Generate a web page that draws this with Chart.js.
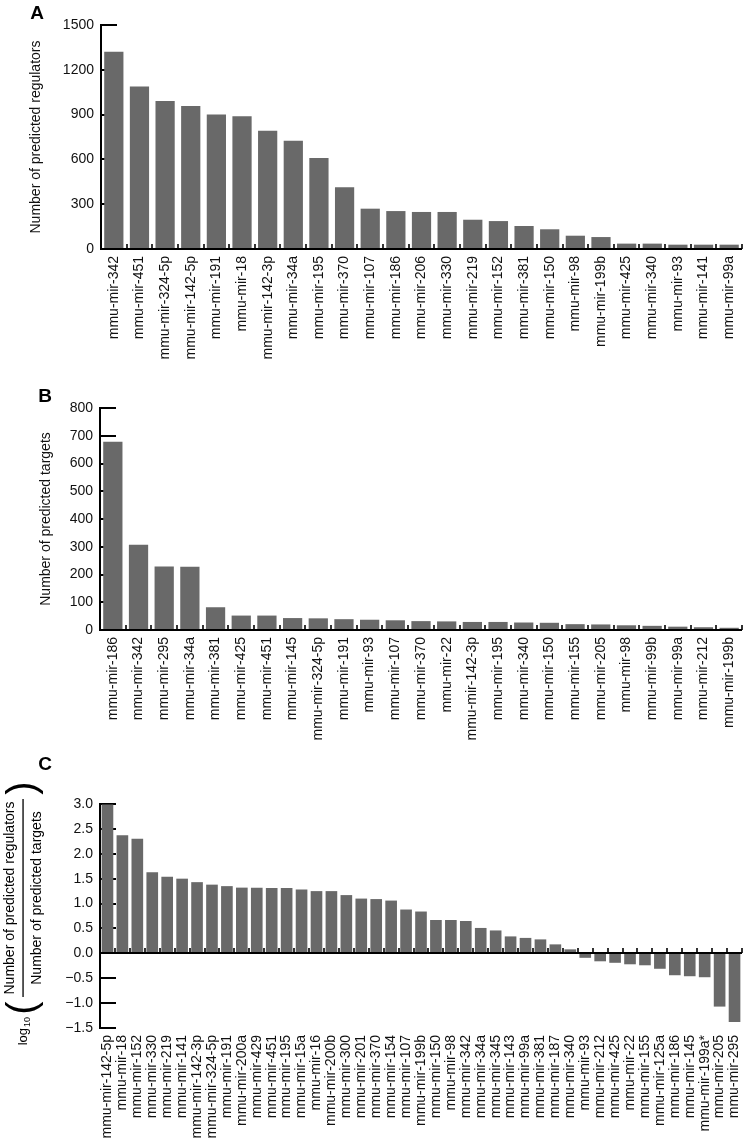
<!DOCTYPE html>
<html>
<head>
<meta charset="UTF-8">
<title>Predicted regulators and targets per miRNA</title>
<script src="https://cdn.jsdelivr.net/npm/chart.js@4.4.0/dist/chart.umd.min.js"></script>
<style>
  body { margin: 0; background: #fff; }
  #page { position: relative; width: 743px; height: 1144px; }
  canvas { position: absolute; left: 0; }
</style>
</head>
<body>
<div id="page">
  <canvas id="chartA" width="743" height="370" style="top:0px"></canvas>
  <canvas id="chartB" width="743" height="380" style="top:370px"></canvas>
  <canvas id="chartC" width="743" height="394" style="top:750px"></canvas>
</div>
<script>
// panel A: number of predicted regulators
const regulatorMirs = ['mmu-mir-342','mmu-mir-451','mmu-mir-324-5p','mmu-mir-142-5p','mmu-mir-191','mmu-mir-18',
  'mmu-mir-142-3p','mmu-mir-34a','mmu-mir-195','mmu-mir-370','mmu-mir-107','mmu-mir-186','mmu-mir-206',
  'mmu-mir-330','mmu-mir-219','mmu-mir-152','mmu-mir-381','mmu-mir-150','mmu-mir-98','mmu-mir-199b',
  'mmu-mir-425','mmu-mir-340','mmu-mir-93','mmu-mir-141','mmu-mir-99a'];
const regulatorCounts = [1321, 1089, 991, 958, 900, 889, 792, 725, 609, 413, 270, 254, 248,
  248, 196, 187, 154, 132, 89, 80, 36, 36, 29, 29, 29];
const regulatorTicks = [0, 300, 600, 900, 1200, 1500];

// panel B: number of predicted targets
const targetMirs = ['mmu-mir-186','mmu-mir-342','mmu-mir-295','mmu-mir-34a','mmu-mir-381','mmu-mir-425',
  'mmu-mir-451','mmu-mir-145','mmu-mir-324-5p','mmu-mir-191','mmu-mir-93','mmu-mir-107','mmu-mir-370',
  'mmu-mir-22','mmu-mir-142-3p','mmu-mir-195','mmu-mir-340','mmu-mir-150','mmu-mir-155','mmu-mir-205',
  'mmu-mir-98','mmu-mir-99b','mmu-mir-99a','mmu-mir-212','mmu-mir-199b'];
const targetCounts = [678, 307, 229, 228, 82, 52, 52, 43, 42, 39, 37, 35, 32,
  31, 29, 29, 27, 26, 21, 20, 17, 15, 12, 10, 8];
const targetTicks = [0, 100, 200, 300, 400, 500, 600, 700, 800];

// panel C: log10(regulators / targets)
const ratioMirs = ['mmu-mir-142-5p','mmu-mir-18','mmu-mir-152','mmu-mir-330','mmu-mir-219','mmu-mir-141',
  'mmu-mir-142-3p','mmu-mir-324-5p','mmu-mir-191','mmu-mir-200a','mmu-mir-429','mmu-mir-451','mmu-mir-195',
  'mmu-mir-15a','mmu-mir-16','mmu-mir-200b','mmu-mir-300','mmu-mir-201','mmu-mir-370','mmu-mir-154',
  'mmu-mir-107','mmu-mir-199b','mmu-mir-150','mmu-mir-98','mmu-mir-342','mmu-mir-34a','mmu-mir-345',
  'mmu-mir-143','mmu-mir-99a','mmu-mir-381','mmu-mir-187','mmu-mir-340','mmu-mir-93','mmu-mir-212',
  'mmu-mir-425','mmu-mir-22','mmu-mir-155','mmu-mir-125a','mmu-mir-186','mmu-mir-145','mmu-mir-199a*',
  'mmu-mir-205','mmu-mir-295'];
const ratioValues = [2.99, 2.37, 2.30, 1.63, 1.54, 1.50, 1.43, 1.38, 1.35, 1.32, 1.32, 1.31, 1.31,
  1.28, 1.25, 1.25, 1.17, 1.10, 1.09, 1.06, 0.88, 0.84, 0.67, 0.67, 0.65, 0.51, 0.46,
  0.34, 0.31, 0.28, 0.18, 0.08, -0.09, -0.16, -0.19, -0.22, -0.24, -0.31, -0.44, -0.46, -0.48,
  -1.07, -1.38];
const ratioTicks = [-1.5, -1.0, -0.5, 0, 0.5, 1.0, 1.5, 2.0, 2.5, 3.0];

const FONT = '"Liberation Sans", Arial, Helvetica, sans-serif';
Chart.defaults.font.family = FONT;
Chart.defaults.font.size = 14;
Chart.defaults.color = '#111';

// axis lines drawn the way the figure has them: ticks inside, x ticks between bars
const axesPlugin = {
  id: 'axes',
  beforeDatasetsDraw(chart) {
    const {ctx, chartArea, scales: {y}} = chart;
    ctx.save();
    ctx.strokeStyle = '#000';
    ctx.lineWidth = 2;
    y.ticks.forEach(t => {
      const py = Math.round(y.getPixelForValue(t.value));
      ctx.beginPath();
      ctx.moveTo(chartArea.left, py);
      ctx.lineTo(chartArea.left + 16, py);
      ctx.stroke();
    });
    ctx.restore();
  },
  afterDatasetsDraw(chart) {
    const {ctx, chartArea, scales: {x, y}} = chart;
    const y0 = Math.round(y.getPixelForValue(0));
    ctx.save();
    ctx.strokeStyle = '#000';
    ctx.lineWidth = 2;
    ctx.beginPath();
    ctx.moveTo(chartArea.left, y.getPixelForValue(y.max) - 1);
    ctx.lineTo(chartArea.left, y.getPixelForValue(y.min) + 1);
    ctx.stroke();
    ctx.beginPath();
    ctx.moveTo(chartArea.left - 1, y0);
    ctx.lineTo(chartArea.right, y0);
    ctx.stroke();
    ctx.lineWidth = 1.6;
    const n = x.getLabels().length;
    for (let i = 1; i <= n; i++) {
      const px = Math.round(x.getPixelForValue(i - 0.5));
      ctx.beginPath();
      ctx.moveTo(px, y0);
      ctx.lineTo(px, y0 - 5);
      ctx.stroke();
    }
    ctx.restore();
  }
};

// panel letter and the log-ratio axis label of panel C
const decorPlugin = {
  id: 'decor',
  afterDraw(chart, args, opts) {
    const ctx = chart.ctx;
    ctx.save();
    ctx.fillStyle = '#000';
    ctx.font = 'bold 19px ' + FONT;
    ctx.textAlign = 'center';
    ctx.textBaseline = 'middle';
    ctx.fillText(opts.letter, opts.lx, opts.ly);
    if (opts.fraction) {
      ctx.translate(23, 148);
      ctx.rotate(-Math.PI / 2);
      ctx.font = '14px ' + FONT;
      ctx.fillText('Number of predicted regulators', 0, -13);
      ctx.fillText('Number of predicted targets', 0, 14);
      ctx.fillRect(-99, -0.6, 198, 1.3);
      ctx.font = '40px ' + FONT;
      ctx.fillText('(', -110, 1);
      ctx.fillText(')', 110, 1);
      ctx.textAlign = 'right';
      ctx.font = '9px ' + FONT;
      ctx.fillText('10', -119, 5);
      ctx.font = '13px ' + FONT;
      ctx.fillText('log', -130, 0);
    }
    ctx.restore();
  }
};

function makeChart(id, labels, values, cfg) {
  return new Chart(document.getElementById(id), {
    type: 'bar',
    data: {
      labels: labels,
      datasets: [{
        data: values,
        backgroundColor: '#696969',
        borderWidth: 0,
        categoryPercentage: 1,
        barPercentage: cfg.barPct
      }]
    },
    options: {
      responsive: false,
      animation: false,
      layout: { padding: { top: cfg.top, right: 1, bottom: 0, left: 0 } },
      plugins: {
        legend: { display: false },
        tooltip: { enabled: false },
        decor: { letter: cfg.letter, lx: cfg.lx, ly: cfg.ly, fraction: !!cfg.fraction }
      },
      scales: {
        x: {
          grid: { display: false, drawTicks: false },
          border: { display: false },
          ticks: { minRotation: 90, maxRotation: 90, autoSkip: false, padding: 7 },
          afterFit: s => { s.height = cfg.xHeight; s.paddingLeft = 0; s.paddingRight = 0; }
        },
        y: {
          min: cfg.ticks[0],
          max: cfg.ticks[cfg.ticks.length - 1],
          afterBuildTicks: s => { s.ticks = cfg.ticks.map(v => ({ value: v })); },
          grid: { display: false, drawTicks: false },
          border: { display: false },
          ticks: { padding: 7, callback: cfg.fmt },
          title: cfg.title ? { display: true, text: cfg.title, color: '#111',
            padding: { top: cfg.titlePad, bottom: 0 } } : { display: false },
          afterFit: s => { s.width = cfg.yWidth; s.paddingTop = 0; s.paddingBottom = 0; }
        }
      }
    },
    plugins: [axesPlugin, decorPlugin]
  });
}

makeChart('chartA', regulatorMirs, regulatorCounts, {
  letter: 'A', lx: 37, ly: 14, top: 25, xHeight: 121, yWidth: 101, barPct: 0.75,
  ticks: regulatorTicks, fmt: v => String(v),
  title: 'Number of predicted regulators', titlePad: 28
});

makeChart('chartB', targetMirs, targetCounts, {
  letter: 'B', lx: 45, ly: 27, top: 38, xHeight: 120, yWidth: 100, barPct: 0.75,
  ticks: targetTicks, fmt: v => String(v),
  title: 'Number of predicted targets', titlePad: 38
});

makeChart('chartC', ratioMirs, ratioValues, {
  letter: 'C', lx: 45, ly: 15, top: 54, xHeight: 116, yWidth: 100, barPct: 0.78,
  ticks: ratioTicks, fmt: v => (v < 0 ? '\u2212' : '') + Math.abs(v).toFixed(1),
  fraction: true
});
</script>
</body>
</html>
